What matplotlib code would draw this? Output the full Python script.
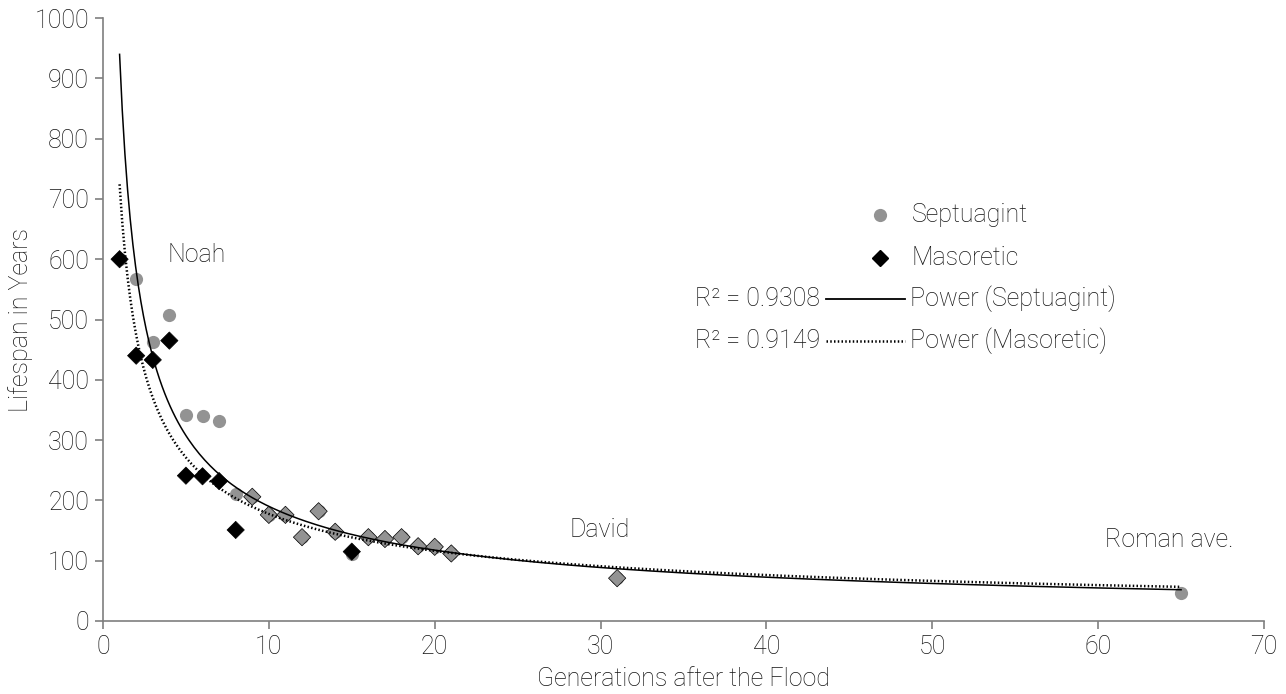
import numpy as np
import matplotlib
matplotlib.use("Agg")
import matplotlib.pyplot as plt
from matplotlib.lines import Line2D

plt.rcParams['font.family'] = ['Roboto', 'DejaVu Sans']
plt.rcParams['font.weight'] = 'light'
plt.rcParams['axes.labelweight'] = 'light'

# ---------------- data ----------------
sept_gen = [1, 2, 3, 4, 5, 6, 7, 8, 9, 10, 11, 12, 13, 14, 15, 16, 17, 18, 19, 20, 21, 31, 65]
sept_life = [600, 567, 462, 507, 341, 340, 332, 210, 206, 176, 176, 139, 182, 148, 111, 139, 136, 139, 124, 123, 112, 71, 47]

maso_gen = [1, 2, 3, 4, 5, 6, 7, 8, 9, 10, 11, 12, 13, 14, 15, 16, 17, 18, 19, 20, 21, 31]
maso_life = [600, 440, 433, 465, 241, 240, 232, 151, 206, 176, 176, 139, 182, 148, 115, 139, 136, 139, 124, 123, 112, 71]
# generations shared by both texts (drawn as grey diamonds)
maso_shared = [False]*8 + [True]*6 + [False] + [True]*7

r2_sept = "0.9308"
r2_maso = "0.9149"
labels = [("Noah", 3.86, 607), ("David", 28.1, 151), ("Roman ave.", 60.4, 134)]

x_ticks = [0, 10, 20, 30, 40, 50, 60, 70]
y_ticks = [0, 100, 200, 300, 400, 500, 600, 700, 800, 900, 1000]

GREY = "#939393"
TXT = "#141414"
FS = 18

W, H = 1286, 694
fig = plt.figure(figsize=(W/100, H/100), dpi=100)
ax = fig.add_axes([103/W, (H-621)/H, (1264-103)/W, (621-18)/H])

sx = np.array(sept_gen, float); sy = np.array(sept_life, float)
mx = np.array(maso_gen, float); my = np.array(maso_life, float)

# power trend lines (least squares in log-log space)
bs, ls_ = np.polyfit(np.log(sx), np.log(sy), 1)
bm, lm = np.polyfit(np.log(mx), np.log(my), 1)
xx = np.linspace(1, 65, 400)
DOT = (0, (0.6, 0.9))
ax.plot(xx, np.exp(ls_)*xx**bs, color="black", lw=1.1, zorder=4)
ax.plot(xx, np.exp(lm)*xx**bm, color="black", lw=1.8, ls=DOT, zorder=4)

# markers
ax.scatter(sx, sy, s=9.5**2, marker='o', color=GREY, linewidths=0, zorder=2)
fc = [GREY if s else "black" for s in maso_shared]
ax.scatter(mx, my, s=8.8**2, marker='D', c=fc, edgecolors="black", linewidths=0.5, zorder=3)

for t, x, y in labels:
    ax.text(x, y, t, fontsize=FS, color=TXT, va='center', ha='left')

ax.set_xlim(0, 70)
ax.set_ylim(0, 1000)
ax.set_xticks(x_ticks)
ax.set_yticks(y_ticks)
for s in ['top', 'right']:
    ax.spines[s].set_visible(False)
for s in ['left', 'bottom']:
    ax.spines[s].set_color("#7f7f7f")
    ax.spines[s].set_linewidth(1.2)
ax.tick_params(direction='out', length=6, width=1.2, color="#7f7f7f",
               labelsize=FS, labelcolor=TXT, pad=4)
ax.set_xlabel("Generations after the Flood", fontsize=FS, color=TXT, labelpad=6)
ax.set_ylabel("Lifespan in Years", fontsize=FS, color=TXT, labelpad=1)

# legend (manual, in pixel coordinates)
def fx(px): return px / W
def fy(py): return 1 - py / H

fig.add_artist(Line2D([fx(880)], [fy(215)], marker='o', ms=9.5, color=GREY, mew=0, ls='none'))
fig.text(fx(912), fy(215), "Septuagint", fontsize=FS, color=TXT, va='center')
fig.add_artist(Line2D([fx(880)], [fy(258)], marker='D', ms=8.0, color="black", ls='none'))
fig.text(fx(912), fy(258), "Masoretic", fontsize=FS, color=TXT, va='center')
fig.text(fx(820), fy(299), "R\u00b2 = " + r2_sept, fontsize=FS, color=TXT, va='center', ha='right')
fig.add_artist(Line2D([fx(826), fx(905)], [fy(299), fy(299)], color="black", lw=1.3))
fig.text(fx(910), fy(299), "Power (Septuagint)", fontsize=FS, color=TXT, va='center')
fig.text(fx(820), fy(341), "R\u00b2 = " + r2_maso, fontsize=FS, color=TXT, va='center', ha='right')
fig.add_artist(Line2D([fx(826), fx(905)], [fy(341), fy(341)], color="black", lw=1.8, ls=DOT))
fig.text(fx(910), fy(341), "Power (Masoretic)", fontsize=FS, color=TXT, va='center')

fig.savefig("out.png", dpi=100)
